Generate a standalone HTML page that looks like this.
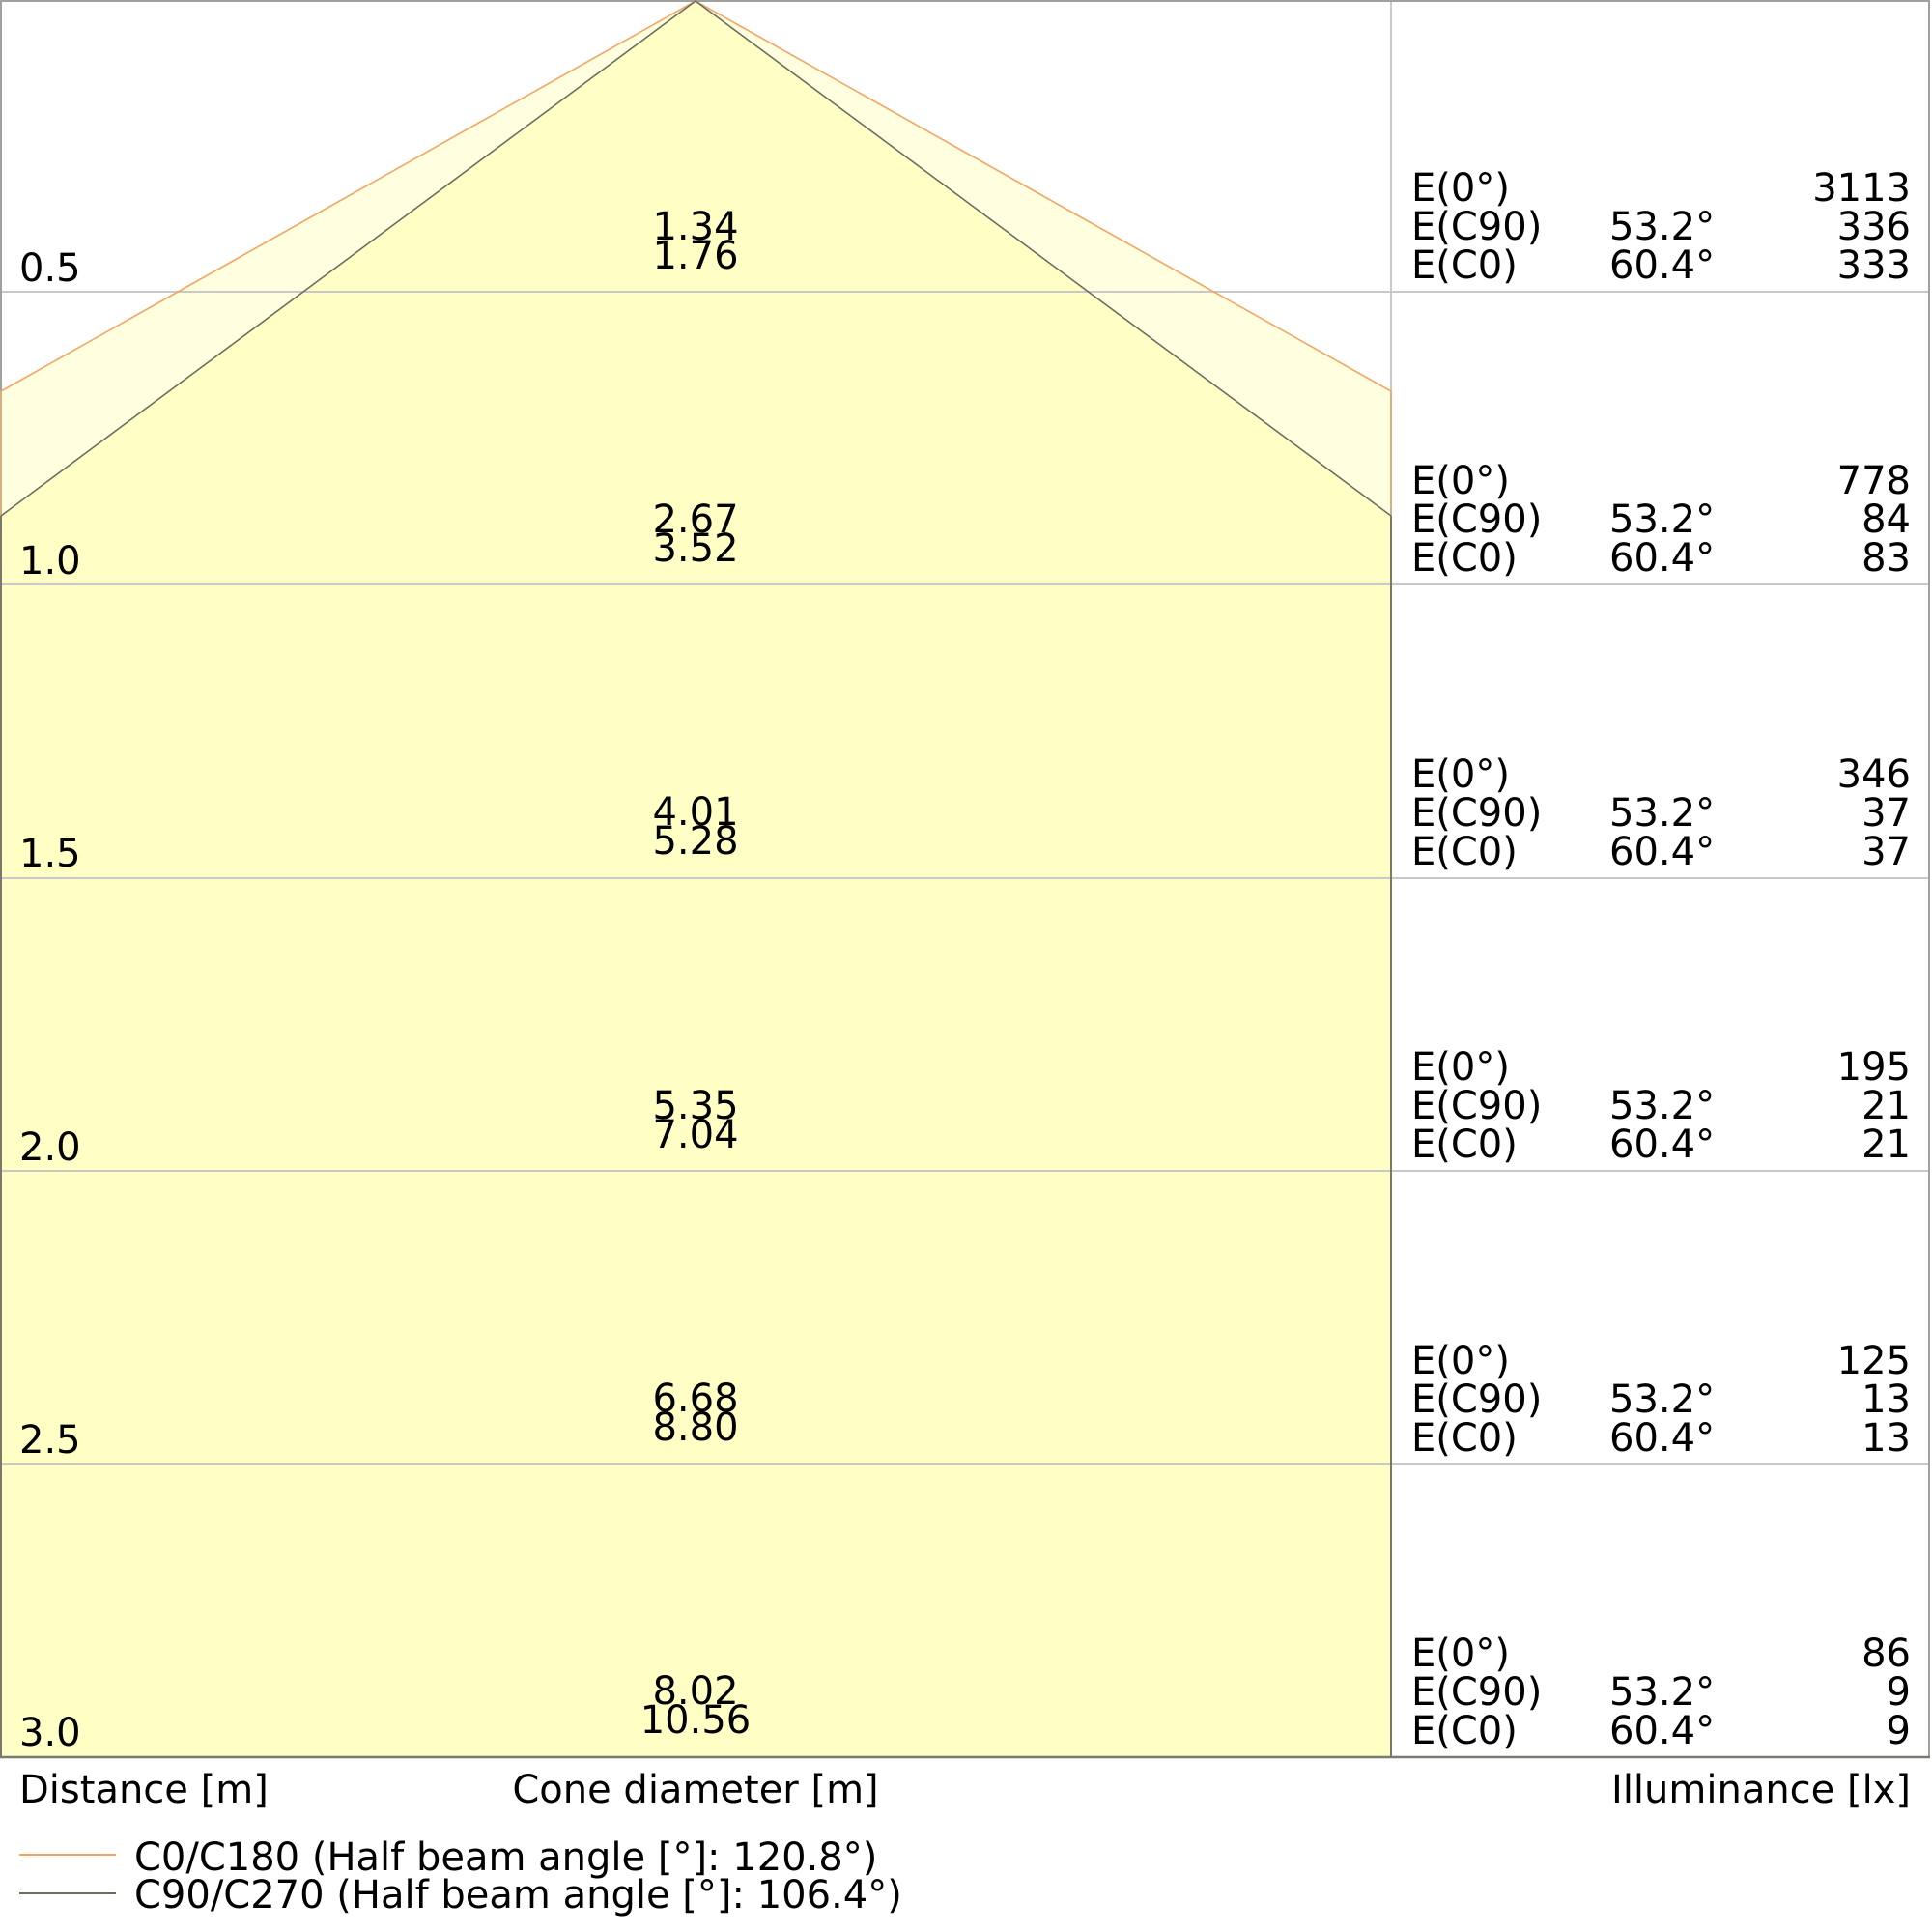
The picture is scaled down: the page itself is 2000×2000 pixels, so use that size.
<!DOCTYPE html>
<html>
<head>
<meta charset="utf-8">
<style>
  html, body { margin:0; padding:0; background:#ffffff; }
  svg { display:block; }
  text { font-family: "DejaVu Sans", "Liberation Sans", sans-serif; font-size:40px; fill:#000; }
</style>
</head>
<body>
<svg width="2000" height="2000" viewBox="0 0 2000 2000" xmlns="http://www.w3.org/2000/svg">
  <rect x="0" y="0" width="2000" height="2000" fill="#ffffff"/>

  <!-- cone fills -->
  <polygon points="720,1 1440,405 1440,1819 1,1819 1,405" fill="#ffffe0" stroke="none"/>
  <polygon points="720,1 1440,534 1440,1819 1,1819 1,534" fill="#ffffc5" stroke="none"/>

  <!-- gridlines -->
  <g stroke="#c8c8c8" stroke-width="2">
    <line x1="0" y1="302" x2="1998" y2="302"/>
    <line x1="0" y1="605" x2="1998" y2="605"/>
    <line x1="0" y1="909" x2="1998" y2="909"/>
    <line x1="0" y1="1212" x2="1998" y2="1212"/>
    <line x1="0" y1="1516" x2="1998" y2="1516"/>
    <line x1="1440" y1="0" x2="1440" y2="1819"/>
  </g>

  <!-- outer border -->
  <rect x="1" y="1" width="1996" height="1818" fill="none" stroke="#a0a0a0" stroke-width="2"/>

  <!-- cone outlines -->
  <polyline points="1,405 720,1 1440,405" fill="none" stroke="#f4a460" stroke-width="1.6"/>
  <line x1="1" y1="405" x2="1" y2="1819" stroke="#d8b080" stroke-width="2"/>
  <line x1="1440" y1="405" x2="1440" y2="1819" stroke="#d8b080" stroke-width="2"/>
  <polyline points="1,534 720,1 1440,534" fill="none" stroke="#6c6e60" stroke-width="1.6"/>
  <line x1="1" y1="534" x2="1" y2="1819" stroke="#7a7868" stroke-width="2"/>
  <line x1="1440" y1="534" x2="1440" y2="1819" stroke="#7a7868" stroke-width="2"/>
  <line x1="0" y1="1819" x2="1998" y2="1819" stroke="#7a7a72" stroke-width="2.5"/>

  <!-- distance tick labels -->
  <text x="20" y="291">0.5</text>
  <text x="20" y="594">1.0</text>
  <text x="20" y="897">1.5</text>
  <text x="20" y="1201">2.0</text>
  <text x="20" y="1504">2.5</text>
  <text x="20" y="1807">3.0</text>

  <!-- cone diameter labels -->
  <g text-anchor="middle">
    <text x="720" y="248">1.34</text>
    <text x="720" y="278">1.76</text>
    <text x="720" y="551">2.67</text>
    <text x="720" y="581">3.52</text>
    <text x="720" y="854">4.01</text>
    <text x="720" y="884">5.28</text>
    <text x="720" y="1158">5.35</text>
    <text x="720" y="1188">7.04</text>
    <text x="720" y="1461">6.68</text>
    <text x="720" y="1491">8.80</text>
    <text x="720" y="1764">8.02</text>
    <text x="720" y="1794">10.56</text>
  </g>

  <!-- illuminance table -->
  <g>
    <text x="1461" y="208">E(0°)</text>
    <text x="1461" y="248">E(C90)</text>
    <text x="1461" y="288">E(C0)</text>
    <text x="1666" y="248">53.2°</text>
    <text x="1666" y="288">60.4°</text>

    <text x="1461" y="511">E(0°)</text>
    <text x="1461" y="551">E(C90)</text>
    <text x="1461" y="591">E(C0)</text>
    <text x="1666" y="551">53.2°</text>
    <text x="1666" y="591">60.4°</text>

    <text x="1461" y="815">E(0°)</text>
    <text x="1461" y="855">E(C90)</text>
    <text x="1461" y="895">E(C0)</text>
    <text x="1666" y="855">53.2°</text>
    <text x="1666" y="895">60.4°</text>

    <text x="1461" y="1118">E(0°)</text>
    <text x="1461" y="1158">E(C90)</text>
    <text x="1461" y="1198">E(C0)</text>
    <text x="1666" y="1158">53.2°</text>
    <text x="1666" y="1198">60.4°</text>

    <text x="1461" y="1422">E(0°)</text>
    <text x="1461" y="1462">E(C90)</text>
    <text x="1461" y="1502">E(C0)</text>
    <text x="1666" y="1462">53.2°</text>
    <text x="1666" y="1502">60.4°</text>

    <text x="1461" y="1725">E(0°)</text>
    <text x="1461" y="1765">E(C90)</text>
    <text x="1461" y="1805">E(C0)</text>
    <text x="1666" y="1765">53.2°</text>
    <text x="1666" y="1805">60.4°</text>
  </g>
  <g text-anchor="end">
    <text x="1978" y="208">3113</text>
    <text x="1978" y="248">336</text>
    <text x="1978" y="288">333</text>
    <text x="1978" y="511">778</text>
    <text x="1978" y="551">84</text>
    <text x="1978" y="591">83</text>
    <text x="1978" y="815">346</text>
    <text x="1978" y="855">37</text>
    <text x="1978" y="895">37</text>
    <text x="1978" y="1118">195</text>
    <text x="1978" y="1158">21</text>
    <text x="1978" y="1198">21</text>
    <text x="1978" y="1422">125</text>
    <text x="1978" y="1462">13</text>
    <text x="1978" y="1502">13</text>
    <text x="1978" y="1725">86</text>
    <text x="1978" y="1765">9</text>
    <text x="1978" y="1805">9</text>
  </g>

  <!-- axis titles -->
  <text x="20" y="1866">Distance [m]</text>
  <text x="720" y="1866" text-anchor="middle">Cone diameter [m]</text>
  <text x="1978" y="1866" text-anchor="end">Illuminance [lx]</text>

  <!-- legend -->
  <line x1="20" y1="1920" x2="120" y2="1920" stroke="#f4a460" stroke-width="2"/>
  <line x1="20" y1="1960" x2="120" y2="1960" stroke="#6c6e60" stroke-width="2"/>
  <text x="139" y="1936">C0/C180 (Half beam angle [°]: 120.8°)</text>
  <text x="139" y="1975">C90/C270 (Half beam angle [°]: 106.4°)</text>
</svg>
</body>
</html>
